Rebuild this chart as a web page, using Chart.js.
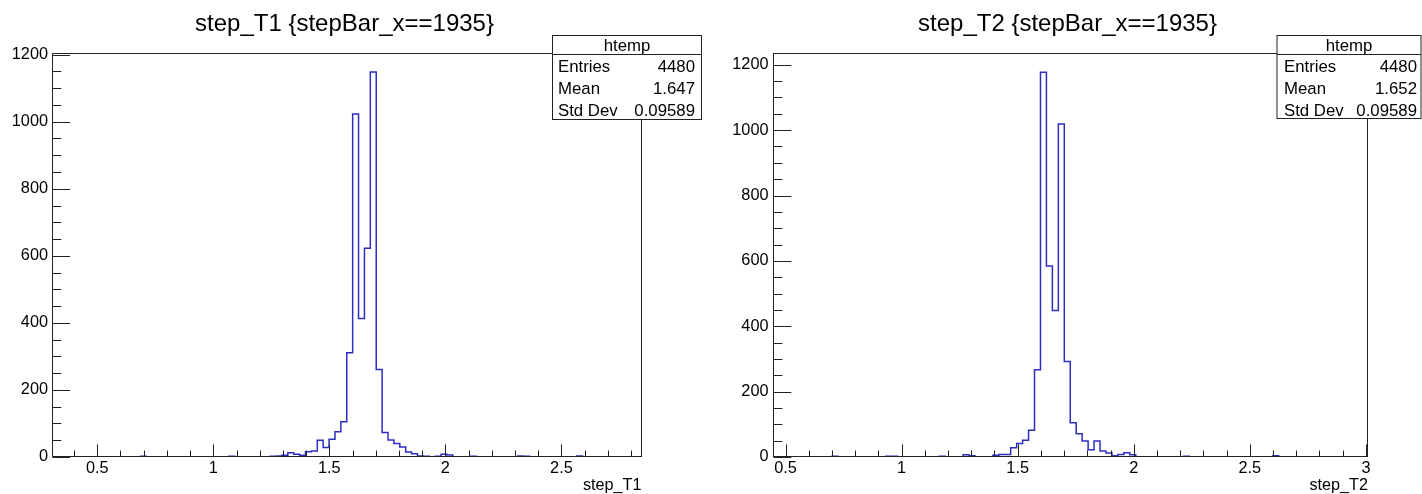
<!DOCTYPE html>
<html>
<head>
<meta charset="utf-8">
<script src="https://cdn.jsdelivr.net/npm/chart.js@4/dist/chart.umd.min.js"></script>
<style>
html,body{margin:0;padding:0;background:#fff;overflow:hidden}
#wrap{position:relative;width:1422px;height:494px;background:#fff}
canvas{position:absolute;top:0}
</style>
</head>
<body>
<div id="wrap">
<canvas id="c1" width="711" height="494" style="left:0"></canvas>
<canvas id="c2" width="711" height="494" style="left:711px"></canvas>
</div>
<script>
// ---------------- DATA ----------------
// 100-bin histograms (counts per bin)
const countsT1 = [
  0,0,0,0,0,0,0,0,0,0,
  0,0,0,0,0,2,0,0,0,0,
  0,0,0,0,0,0,0,0,0,0,
  2,0,0,0,0,0,0,2,3,5,
  13,8,5,16,18,50,28,53,75,105,
  311,1023,413,623,1148,261,73,51,40,30,
  15,10,3,2,1,2,8,6,0,0,
  0,2,0,0,0,0,0,0,0,3,
  2,0,0,0,0,0,0,0,0,3,
  0,0,0,0,0,0,0,0,0,0
];
const countsT2 = [
  0,0,0,0,0,0,0,0,0,0,
  2,0,0,0,0,0,0,0,0,2,
  2,0,0,0,0,0,0,0,2,0,
  0,0,7,4,1,1,1,5,8,8,
  28,41,51,82,267,1177,584,448,1019,292,
  105,71,49,22,49,18,12,4,8,13,
  7,1,0,0,0,0,0,0,0,2,
  0,0,0,0,0,0,0,0,0,0,
  0,0,0,0,4,0,0,0,0,0,
  0,0,0,0,0,0,0,0,0,0
];
const rangeT1 = [0.305, 2.845];
const rangeT2 = [0.444, 3.009];
const xTicksT1 = [0.5, 1, 1.5, 2, 2.5];
const xTicksT2 = [0.5, 1, 1.5, 2, 2.5, 3];
const yTicks = [0, 200, 400, 600, 800, 1000, 1200];
const titles = ['step_T1 {stepBar_x==1935}', 'step_T2 {stepBar_x==1935}'];
const axisTitles = ['step_T1', 'step_T2'];
const statLabels = ['Entries', 'Mean', 'Std Dev'];
const statsT1 = ['4480', '1.647', '0.09589'];
const statsT2 = ['4480', '1.652', '0.09589'];
const statsName = 'htemp';

// ---------------- LAYOUT ----------------
const FONT = '"Liberation Sans", Arial, Helvetica, sans-serif';
const TICKPX = 16.3;
const panels = [
  { id:'c1', counts:countsT1, range:rangeT1, xt:xTicksT1, ymax:1205, title:titles[0], atitle:axisTitles[0], stats:statsT1,
    plot:{l:52, r:641.5, t:53, b:457}, titleX:344.5, box:{l:552.5, r:701.5, t:35, d:54, b:119, lx:558, vx:695} },
  { id:'c2', counts:countsT2, range:rangeT2, xt:xTicksT2, ymax:1236, title:titles[1], atitle:axisTitles[1], stats:statsT2,
    plot:{l:61.5, r:657, t:53, b:457}, titleX:356.5, box:{l:566, r:710, t:35, d:54, b:118, lx:573, vx:706} }
];

const decor = {
  id:'decor',
  afterDatasetsDraw(chart, args, o) {
    const p = o.p, ctx = chart.ctx, xs = chart.scales.x, ys = chart.scales.y;
    const L = Math.round(xs.left)+0.5, R = Math.round(xs.right)-0.5;
    const T = Math.round(ys.top)+0.5, B = Math.round(ys.bottom)-0.5;
    ctx.save();
    ctx.strokeStyle = '#222'; ctx.lineWidth = 1;
    ctx.strokeRect(L, T, R-L, B-T);
    const h = B - T, w = R - L;
    ctx.beginPath();
    for (let k = Math.ceil(p.range[0]*10); k <= Math.floor(p.range[1]*10); k++) {
      const x = Math.round(xs.getPixelForValue(k/10)) + 0.5;
      const len = (k % 5 === 0) ? 0.03*h : 0.015*h;
      ctx.moveTo(x, B); ctx.lineTo(x, B - len);
    }
    for (let v = 0; v <= p.ymax; v += 50) {
      const y = Math.round(ys.getPixelForValue(v)) + 0.5;
      const len = (v % 200 === 0) ? 0.03*w : 0.015*w;
      ctx.moveTo(L, y); ctx.lineTo(L + len, y);
    }
    ctx.stroke();
    ctx.restore();
  },
  afterDraw(chart, args, o) {
    const p = o.p, ctx = chart.ctx;
    ctx.save();
    ctx.fillStyle = '#000';
    ctx.font = '24px ' + FONT;
    ctx.textAlign = 'center'; ctx.textBaseline = 'alphabetic';
    ctx.fillText(p.title, p.titleX, 31);
    ctx.font = '16.2px ' + FONT;
    ctx.textAlign = 'right';
    ctx.fillText(p.atitle, p.plot.r, 490);
    const b = p.box;
    ctx.fillStyle = '#fff';
    ctx.fillRect(b.l, b.t, b.r-b.l, b.b-b.t);
    ctx.strokeStyle = '#222'; ctx.lineWidth = 1;
    ctx.strokeRect(b.l, b.t+0.5, b.r-b.l, b.b-b.t);
    ctx.beginPath(); ctx.moveTo(b.l, b.d+0.5); ctx.lineTo(b.r, b.d+0.5); ctx.stroke();
    ctx.fillStyle = '#000';
    ctx.font = '16.8px ' + FONT;
    ctx.textAlign = 'center';
    ctx.fillText(statsName, (b.l+b.r)/2, 50.5);
    const ys = [72, 94, 115.5];
    for (let i = 0; i < statLabels.length; i++) {
      ctx.textAlign = 'left'; ctx.fillText(statLabels[i], b.lx, ys[i]);
      ctx.textAlign = 'right'; ctx.fillText(p.stats[i], b.vx, ys[i]);
    }
    ctx.restore();
  }
};

function build(p) {
  const w = (p.range[1] - p.range[0]) / p.counts.length;
  const pts = p.counts.map((c, i) => ({ x: p.range[0] + i*w, y: c }));
  pts.push({ x: p.range[1], y: 0 });
  return new Chart(document.getElementById(p.id), {
    type: 'line',
    data: { datasets: [{
      data: pts, stepped: true, borderColor: '#2d2dc0', borderWidth: 1.5,
      pointRadius: 0, fill: false, tension: 0
    }]},
    plugins: [decor],
    options: {
      responsive: false, animation: false, devicePixelRatio: 1,
      layout: { padding: { left: 0, top: p.plot.t, right: 711 - p.plot.r, bottom: 0 } },
      plugins: { legend: { display: false }, tooltip: { enabled: false }, decor: { p } },
      scales: {
        x: {
          type: 'linear', min: p.range[0], max: p.range[1],
          grid: { display: false, drawTicks: false }, border: { display: false },
          afterBuildTicks: s => { s.ticks = p.xt.map(v => ({ value: v })); },
          afterFit: s => { s.height = 494 - p.plot.b; },
          ticks: { autoSkip: false, maxRotation: 0, padding: 2, color: '#000',
                   font: { family: FONT, size: TICKPX }, callback: v => String(v) }
        },
        y: {
          type: 'linear', min: 0, max: p.ymax,
          grid: { display: false, drawTicks: false }, border: { display: false },
          afterBuildTicks: s => { s.ticks = yTicks.map(v => ({ value: v })); },
          afterFit: s => { s.width = p.plot.l; },
          ticks: { autoSkip: false, padding: 4, color: '#000',
                   font: { family: FONT, size: TICKPX }, callback: v => String(v) }
        }
      }
    }
  });
}
panels.forEach(build);
</script>
</body>
</html>
